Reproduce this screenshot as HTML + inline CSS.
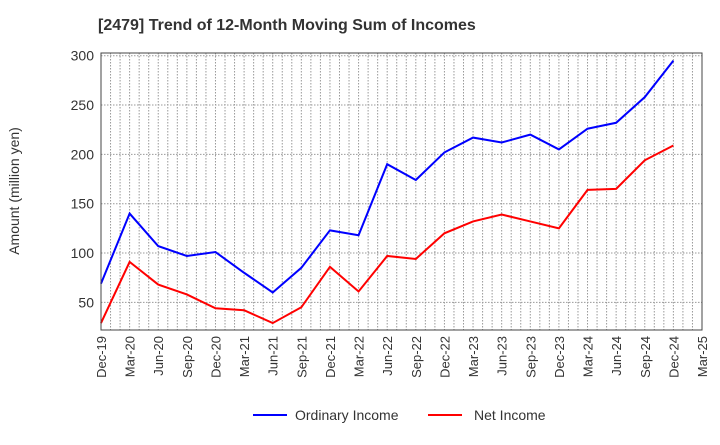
<!DOCTYPE html>
<html><head><meta charset="utf-8"><style>
body{margin:0;background:#fff;font-family:"Liberation Sans",sans-serif;}
</style></head><body>
<svg id="c" width="720" height="440" xmlns="http://www.w3.org/2000/svg">
<text x="98" y="30" font-size="16" font-weight="bold" fill="#333">[2479]  Trend of 12-Month Moving Sum of Incomes</text>
<text transform="translate(19,191) rotate(-90)" text-anchor="middle" font-size="14" fill="#333">Amount (million yen)</text>
<g id="grid"></g><g id="series"></g><g id="axes"></g>
<g>
<line x1="253" y1="415" x2="287" y2="415" stroke="#0000ff" stroke-width="2"/>
<text x="295" y="420" font-size="14" fill="#333">Ordinary Income</text>
<line x1="428" y1="415" x2="462" y2="415" stroke="#ff0000" stroke-width="2"/>
<text x="474" y="420" font-size="14" fill="#333">Net Income</text>
</g>
</svg>
<script>
const categories=["Dec-19","Mar-20","Jun-20","Sep-20","Dec-20","Mar-21","Jun-21","Sep-21","Dec-21","Mar-22","Jun-22","Sep-22","Dec-22","Mar-23","Jun-23","Sep-23","Dec-23","Mar-24","Jun-24","Sep-24","Dec-24","Mar-25"];
const ordinaryIncome=[69,140,107,97,101,80,60,85,123,118,190,174,202,217,212,220,205,226,232,258,295];
const netIncome=[29,91,68,58,44,42,29,45,86,61,97,94,120,132,139,132,125,164,165,194,209];
const yTicks=[50,100,150,200,250,300];
const NS="http://www.w3.org/2000/svg";
const L=101,R=702,T=53,B=330;
const xs=i=>L+i*(R-L)/(categories.length-1);
const ys=v=>55.7+(300-v)*0.9866;
function mk(tag,attrs,parent){const e=document.createElementNS(NS,tag);for(const k in attrs)e.setAttribute(k,attrs[k]);parent.appendChild(e);return e;}
const grid=document.getElementById('grid'),axes=document.getElementById('axes'),series=document.getElementById('series');
const nMonths=(categories.length-1)*3;
for(let m=1;m<nMonths;m++){const x=L+m*(R-L)/nMonths;const g=mk('line',{x1:x,x2:x,y1:T,y2:B,stroke:'#999','stroke-dasharray':'1.5,1.5','stroke-width':1},grid);

}
yTicks.forEach(v=>{const y=ys(v);const g=mk('line',{x1:L,x2:R,y1:y,y2:y,stroke:'#999','stroke-dasharray':'1.5,1.5','stroke-width':1},grid);


const t=mk('text',{x:L-7,y:y+5,'text-anchor':'end','font-size':14,fill:'#333'},axes);t.textContent=v;

});
categories.forEach((c,i)=>{const x=xs(i);const t=mk('text',{transform:`translate(${x+5},${B+6}) rotate(-90)`,'text-anchor':'end','font-size':13,fill:'#333'},axes);t.textContent=c;

});
const fr=mk('rect',{x:L,y:T,width:R-L,height:B-T,fill:'none',stroke:'#444','stroke-width':1},axes);


function line(data,color,name){const p=mk('polyline',{points:data.map((v,i)=>xs(i)+','+ys(v)).join(' '),fill:'none',stroke:color,'stroke-width':2},series);

}
line(ordinaryIncome,'#0000ff','ordinary-income-line');
line(netIncome,'#ff0000','net-income-line');
</script>
</body></html>
